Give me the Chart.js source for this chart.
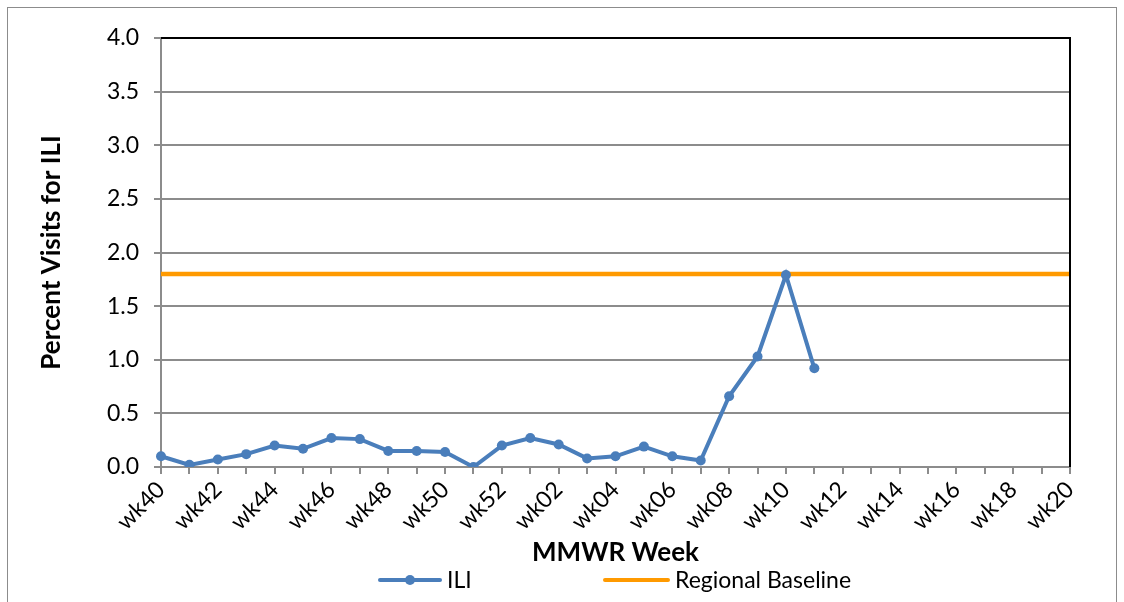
<!DOCTYPE html>
<html lang="en">
  <head>
    <meta charset="utf-8" />
    <title>ILI</title>
    <script src="https://cdn.jsdelivr.net/npm/chart.js"></script>
    <style>
      html, body { margin: 0; padding: 0; background: #fff; }
      #wrap { width: 1124px; height: 602px; }
    </style>
  </head>
  <body>
    <div id="wrap">
      <canvas id="myChart" width="1124" height="602"></canvas>
    </div>
    <script>
      const weeks = [
        'wk40', 'wk41', 'wk42', 'wk43', 'wk44', 'wk45', 'wk46', 'wk47', 'wk48',
        'wk49', 'wk50', 'wk51', 'wk52', 'wk01', 'wk02', 'wk03', 'wk04', 'wk05',
        'wk06', 'wk07', 'wk08', 'wk09', 'wk10', 'wk11', 'wk12', 'wk13', 'wk14',
        'wk15', 'wk16', 'wk17', 'wk18', 'wk19', 'wk20',
      ];
      const iliValues = [
        0.10, 0.02, 0.07, 0.12, 0.20, 0.17, 0.27, 0.26, 0.15, 0.15, 0.14, 0.00,
        0.20, 0.27, 0.21, 0.08, 0.10, 0.19, 0.10, 0.06, 0.66, 1.03, 1.79, 0.92,
      ];
      const baselineValue = 1.8;
      const baselineValues = weeks.map(() => baselineValue);
      const seriesNames = ['ILI', 'Regional Baseline'];

      const FONT = 'Lato, "Open Sans", sans-serif';
      const blue = '#4a7ebb';
      const orange = '#ff9a00';

      // outer frame, black plot top/right edges, and the legend
      const extras = {
        id: 'extras',
        afterDatasetsDraw(chart) {
          const { ctx, chartArea } = chart;
          ctx.save();
          ctx.strokeStyle = '#000';
          ctx.lineWidth = 2;
          ctx.beginPath();
          ctx.moveTo(chartArea.left, chartArea.top);
          ctx.lineTo(chartArea.right, chartArea.top);
          ctx.lineTo(chartArea.right, chartArea.bottom);
          ctx.stroke();
          ctx.restore();
        },
        afterDraw(chart) {
          const ctx = chart.ctx;
          ctx.save();
          ctx.strokeStyle = '#8c8c8c';
          ctx.lineWidth = 1;
          ctx.strokeRect(7.5, 7.5, 1109, 620);

          const y = 580;
          ctx.lineCap = 'round';
          ctx.lineWidth = 4;
          ctx.strokeStyle = blue;
          ctx.beginPath();
          ctx.moveTo(380, y);
          ctx.lineTo(440, y);
          ctx.stroke();
          ctx.fillStyle = blue;
          ctx.beginPath();
          ctx.arc(410, y, 5, 0, Math.PI * 2);
          ctx.fill();

          ctx.strokeStyle = orange;
          ctx.beginPath();
          ctx.moveTo(605, y);
          ctx.lineTo(668, y);
          ctx.stroke();

          ctx.fillStyle = '#000';
          ctx.font = '23px ' + FONT;
          ctx.textBaseline = 'middle';
          ctx.fillText(seriesNames[0], 447, y + 1);
          ctx.fillText(seriesNames[1], 675, y + 1);
          ctx.restore();
        },
      };

      const data = {
        labels: weeks,
        datasets: [
          {
            label: seriesNames[0],
            data: iliValues,
            borderColor: blue,
            backgroundColor: blue,
            borderWidth: 4,
            pointRadius: 5,
            pointHoverRadius: 5,
            pointBorderWidth: 0,
            tension: 0,
          },
          {
            label: seriesNames[1],
            data: baselineValues,
            borderColor: orange,
            backgroundColor: orange,
            borderWidth: 4.5,
            pointRadius: 0,
            tension: 0,
          },
        ],
      };

      const config = {
        type: 'line',
        data: data,
        options: {
          responsive: false,
          animation: false,
          layout: { padding: { left: 10, right: 54, top: 38, bottom: 0 } },
          plugins: { legend: { display: false }, tooltip: { enabled: false } },
          scales: {
            x: {
              offset: false,
              afterFit(scale) { scale.height = 135; },
              grid: {
                drawOnChartArea: false,
                drawTicks: true,
                tickLength: 7,
                color: '#8c8c8c',
                lineWidth: 2,
              },
              border: { color: '#8c8c8c', width: 2 },
              ticks: {
                autoSkip: false,
                maxRotation: 45,
                minRotation: 45,
                padding: 2,
                color: '#000',
                font: { family: FONT, size: 23 },
                callback: (v, i) => (i % 2 === 0 ? weeks[i] : ''),
              },
              title: {
                display: true,
                text: 'MMWR Week',
                color: '#000',
                font: { family: FONT, size: 26, weight: 'bold' },
                padding: { top: 0, bottom: 34 },
              },
            },
            y: {
              min: 0,
              max: 4,
              afterFit(scale) { scale.width = 151; },
              grid: { color: '#8c8c8c', lineWidth: 2, tickLength: 7 },
              border: { color: '#8c8c8c', width: 2 },
              ticks: {
                stepSize: 0.5,
                padding: 15,
                color: '#000',
                font: { family: FONT, size: 23 },
                callback: (v) => v.toFixed(1),
              },
              title: {
                display: true,
                text: 'Percent Visits for ILI',
                color: '#000',
                font: { family: FONT, size: 26, weight: 'bold' },
                padding: { top: 26, bottom: 0 },
              },
            },
          },
        },
        plugins: [extras],
      };

      var myChart = new Chart(document.getElementById('myChart'), config);
    </script>
  </body>
</html>
